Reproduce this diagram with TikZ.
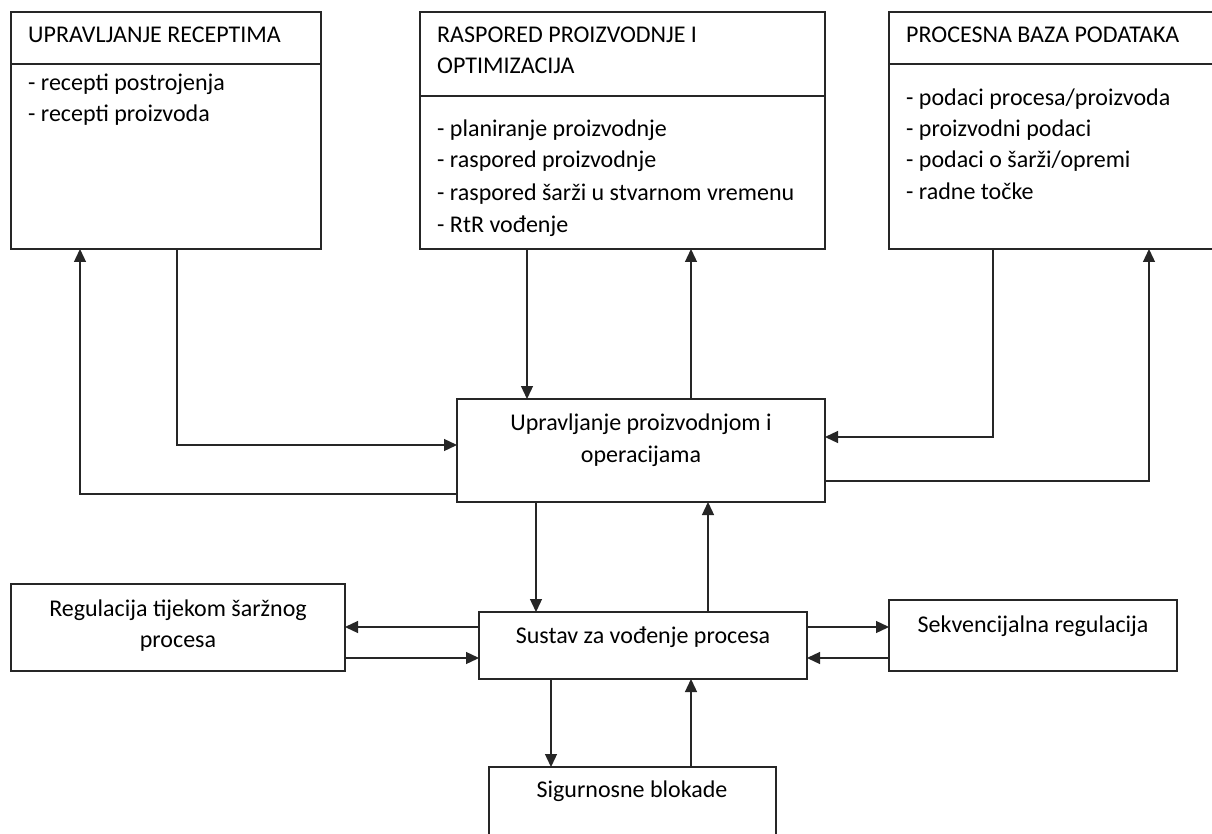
\documentclass[tikz,border=0pt]{standalone}
\usepackage{fontspec}
\setmainfont{Carlito}
\usetikzlibrary{arrows.meta,calc}
\tikzset{
  box/.style={draw=black!85, line width=1.3pt, anchor=north west, inner sep=0pt, outer sep=0pt},
  lin/.style={draw=black!85, line width=1.3pt},
  arr/.style={draw=black!85, line width=1.3pt, -{Triangle[length=13pt,width=12pt]}},
  txt/.style={anchor=base west, inner sep=0pt, text=black},
  ctxt/.style={anchor=base, inner sep=0pt, text=black},
}
\begin{document}
\begin{tikzpicture}[x=1pt,y=-1pt, font=\fontsize{24pt}{29pt}\selectfont]
\path[use as bounding box] (0,0) rectangle (1212,834);
\clip (0,0) rectangle (1212,834);
\fill[white] (0,0) rectangle (1212,834);

% boxes
\node[box, minimum width=310pt, minimum height=237pt] (b1) at (11,12) {};
\node[box, minimum width=405pt, minimum height=237pt] (b2) at (420,12) {};
\node[box, minimum width=400pt, minimum height=237pt] (b3) at (889,12) {};
\node[box, minimum width=368pt, minimum height=103pt] (cen) at (457,399) {};
\node[box, minimum width=334pt, minimum height=87pt] (reg) at (11,584) {};
\node[box, minimum width=328pt, minimum height=67pt] (sus) at (479,612) {};
\node[box, minimum width=288pt, minimum height=71pt] (sek) at (889,600) {};
\node[box, minimum width=287pt, minimum height=110pt] (sig) at (489,767) {};

% dividers
\draw[lin] ($(b1.north west)+(0,52)$) -- ($(b1.north east)+(0,52)$);
\draw[lin] ($(b2.north west)+(0,84)$) -- ($(b2.north east)+(0,84)$);
\draw[lin] ($(b3.north west)+(0,52)$) -- ($(b3.north east)+(0,52)$);

% texts
\node[txt] (t1) at (28,43) {UPRAVLJANJE RECEPTIMA};
\node[txt] (t1a) at (28,91) {- recepti postrojenja};
\node[txt] (t1b) at (28,122) {- recepti proizvoda};

\node[txt] (t2) at (437,43) {RASPORED PROIZVODNJE I};
\node[txt] (t2x) at (437,74) {OPTIMIZACIJA};
\node[txt] (t2a) at (437,137) {- planiranje proizvodnje};
\node[txt] (t2b) at (437,168) {- raspored proizvodnje};
\node[txt] (t2c) at (437,201) {- raspored šarži u stvarnom vremenu};
\node[txt] (t2d) at (437,233) {- RtR vođenje};

\node[txt] (t3) at (906,43) {PROCESNA BAZA PODATAKA};
\node[txt] (t3a) at (906,106) {- podaci procesa/proizvoda};
\node[txt] (t3b) at (906,137) {- proizvodni podaci};
\node[txt] (t3c) at (906,168) {- podaci o šarži/opremi};
\node[txt] (t3d) at (906,200) {- radne točke};

\node[ctxt] (tc1) at (641,430) {Upravljanje proizvodnjom i};
\node[ctxt] (tc2) at (641,462) {operacijama};
\node[ctxt] (tr1) at (178,616) {Regulacija tijekom šaržnog};
\node[ctxt] (tr2) at (178,647) {procesa};
\node[ctxt] (ts) at (643,643) {Sustav za vođenje procesa};
\node[ctxt] (tk) at (1033,632) {Sekvencijalna regulacija};
\node[ctxt] (tg) at (632,797) {Sigurnosne blokade};

% connectors
\draw[arr] ($(b1.south west)+(166,0)$) |- ($(cen.north west)+(0,46)$);
\draw[arr] ($(cen.north west)+(0,95)$) -| ($(b1.south west)+(69,0)$);
\draw[arr] ($(b2.south west)+(107,0)$) -- ($(cen.north west)+(70,0)$);
\draw[arr] ($(cen.north west)+(234,0)$) -- ($(b2.south west)+(271,0)$);
\draw[arr] ($(b3.south west)+(104,0)$) |- ($(cen.north east)+(0,38)$);
\draw[arr] ($(cen.north east)+(0,82)$) -| ($(b3.south west)+(260,0)$);
\draw[arr] ($(cen.south west)+(79,0)$) -- ($(sus.north west)+(57,0)$);
\draw[arr] ($(sus.north west)+(229,0)$) -- ($(cen.south west)+(251,0)$);
\draw[arr] ($(sus.north west)+(0,15)$) -- ($(reg.north east)+(0,43)$);
\draw[arr] ($(reg.north east)+(0,74)$) -- ($(sus.north west)+(0,46)$);
\draw[arr] ($(sus.north east)+(0,15)$) -- ($(sek.north west)+(0,27)$);
\draw[arr] ($(sek.north west)+(0,58)$) -- ($(sus.north east)+(0,46)$);
\draw[arr] ($(sus.south west)+(72,0)$) -- ($(sig.north west)+(62,0)$);
\draw[arr] ($(sig.north west)+(202,0)$) -- ($(sus.south west)+(212,0)$);
\end{tikzpicture}
\end{document}
